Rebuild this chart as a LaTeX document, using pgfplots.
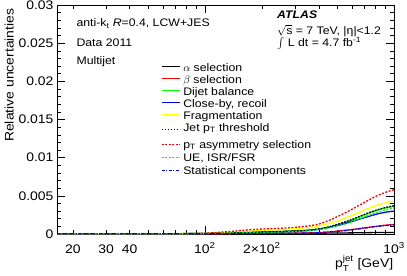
\documentclass[border=0pt]{standalone}
\usepackage{fontspec}
\setmainfont{Liberation Sans}[FakeStretch=1.12]
\usepackage{amsmath}
\usepackage{pgfplots}
\usepackage{pgfplotstable}
\pgfplotsset{compat=1.18}
\definecolor{rgreen}{RGB}{0,255,0}
\definecolor{rblue}{RGB}{0,0,255}
\definecolor{rred}{RGB}{255,0,0}
\definecolor{ryellow}{RGB}{255,255,0}
\pgfplotstableread{
pt     alpha   beta    dijet   close   frag    jetpt   asym    ue      stat
16.5   0.00003 0.00003 0.00003 0.00003 0.00003 0.00003 0.00003 0.00003 0.00003
30     0.00003 0.00003 0.00003 0.00003 0.00003 0.00003 0.00003 0.00003 0.00003
50     0.00003 0.00003 0.00003 0.00003 0.00003 0.00003 0.00003 0.00003 0.00003
70     0.00003 0.00003 0.00004 0.00004 0.00004 0.00004 0.00004 0.00004 0.00003
100    0.00004 0.00004 0.00008 0.00006 0.00008 0.00006 0.00010 0.00006 0.00005
130    0.00005 0.00005 0.00015 0.00012 0.00020 0.00012 0.00030 0.00010 0.00006
160    0.00006 0.00006 0.00022 0.00020 0.00032 0.00018 0.00048 0.00015 0.00007
200    0.00007 0.00008 0.00030 0.00026 0.00045 0.00025 0.00065 0.00020 0.00008
250    0.00008 0.00009 0.00036 0.00030 0.00055 0.00032 0.00075 0.00025 0.00009
300    0.00009 0.00010 0.00042 0.00035 0.00070 0.00040 0.00088 0.00032 0.00010
350    0.00010 0.00013 0.00050 0.00045 0.00085 0.00050 0.00105 0.00042 0.00013
400    0.00011 0.00018 0.00065 0.00062 0.00105 0.00066 0.00130 0.00058 0.00018
450    0.00012 0.00026 0.00090 0.00085 0.00135 0.00092 0.00175 0.00080 0.00026
500    0.00013 0.00036 0.00120 0.00110 0.00170 0.00125 0.00225 0.00105 0.00035
550    0.00014 0.00047 0.00152 0.00138 0.00208 0.00158 0.00275 0.00132 0.00045
600    0.00015 0.00058 0.00185 0.00165 0.00245 0.00190 0.00325 0.00160 0.00056
700    0.00017 0.00080 0.00250 0.00215 0.00315 0.00258 0.00415 0.00225 0.00078
800    0.00019 0.00100 0.00305 0.00257 0.00370 0.00310 0.00492 0.00278 0.00097
900    0.00020 0.00115 0.00340 0.00285 0.00408 0.00347 0.00545 0.00315 0.00110
1000   0.00021 0.00125 0.00360 0.00300 0.00430 0.00370 0.00580 0.00340 0.00120
}\data
\pgfplotsset{
  dotA/.style={dash pattern=on 1.8bp off 1.2bp},
  dashA/.style={dash pattern=on 2bp off 1.5bp},
  dashdotA/.style={dash pattern=on 3bp off 1.5bp on 1bp off 1.5bp},
}
\begin{document}
\begin{tikzpicture}
\begin{axis}[
  name=ax,
  width=337bp, height=229bp, scale only axis,
  xmode=log, xmin=16.5, xmax=1000, ymin=0, ymax=0.03,
  ytick={0,0.005,0.01,0.015,0.02,0.025,0.03},
  yticklabels={0,0.005,0.01,0.015,0.02,0.025,0.03},
  minor y tick num=4,
  scaled y ticks=false,
  xtick={100,1000},
  xticklabels={10\textsuperscript{2},10\textsuperscript{3}},
  minor xtick={20,30,40,50,60,70,80,90,200,300,400,500,600,700,800,900},
  extra x ticks={20,30,40,200},
  extra x tick labels={20,30,40,2×10\textsuperscript{2}},
  extra x tick style={major tick length=0pt},
  tick align=inside,
  major tick length=8bp, minor tick length=4.5bp,
  tick style={black, line width=0.5bp},
  axis line style={line width=0.6bp},
  tick label style={font=\fontsize{12.5}{14}\selectfont},
  xticklabel style={anchor=base, yshift=-19bp},
  ylabel={Relative uncertainties},
  ylabel style={at={(axis description cs:-0.142,1)}, anchor=east, font=\fontsize{12.5}{14}\selectfont},
  xlabel={p$_{\text{T}}^{\text{jet}}$ [GeV]},
  xlabel style={at={(axis description cs:1.008,-0.148)}, anchor=base east, font=\fontsize{12.5}{14}\selectfont},
  legend style={at={(rel axis cs:0.3086,0.7432)}, draw=none, fill=none, anchor=north west,
    font=\fontsize{11}{13}\selectfont, row sep=0pt, inner sep=0pt, outer sep=0pt,
    column sep=3bp, nodes={inner sep=0pt, text height=7.5bp, text depth=4.5bp}},
  legend cell align=left,
  legend image code/.code={\draw[#1] (0bp,3bp) -- (18bp,3bp);},
  every axis plot/.append style={line width=1.3bp},
]
\addplot[draw=black, smooth] table[x=pt,y=alpha]{\data};
\addlegendentry{$\alpha$ selection}
\addplot[draw=rred, smooth] table[x=pt,y=beta]{\data};
\addlegendentry{$\beta$ selection}
\addplot[draw=rgreen, smooth] table[x=pt,y=dijet]{\data};
\addlegendentry{Dijet balance}
\addplot[draw=rblue, smooth] table[x=pt,y=close]{\data};
\addlegendentry{Close-by, recoil}
\addplot[draw=ryellow, smooth] table[x=pt,y=frag]{\data};
\addlegendentry{Fragmentation}
\addplot[draw=black, smooth, dotA] table[x=pt,y=jetpt]{\data};
\addlegendentry[text depth=9.5bp]{Jet p\textsubscript{T} threshold}
\addplot[draw=rred, smooth, dashA] table[x=pt,y=asym]{\data};
\addlegendentry[text depth=5.5bp]{p\textsubscript{T} asymmetry selection}
\addplot[draw=rgreen, smooth, dashA] table[x=pt,y=ue]{\data};
\addlegendentry[text depth=5.5bp]{UE, ISR/FSR}
\addplot[draw=rblue, smooth, dashdotA] table[x=pt,y=stat]{\data};
\addlegendentry[text depth=5.5bp]{Statistical components}
\node[anchor=base west, font=\fontsize{11}{13}\selectfont] at (rel axis cs:0.0475,0.904) {anti-k\textsubscript{t} \textit{R}=0.4, LCW+JES};
\node[anchor=base west, font=\fontsize{11}{13}\selectfont] at (rel axis cs:0.0475,0.8166) {Data 2011};
\node[anchor=base west, font=\fontsize{11}{13}\selectfont] at (rel axis cs:0.0475,0.738) {Multijet};
\node[anchor=base west, inner sep=0pt, font=\fontsize{11}{13}\selectfont\bfseries\itshape] at (rel axis cs:0.6528,0.941) {ATLAS};
\node[anchor=base west, inner sep=0pt, font=\fontsize{11}{13}\selectfont] at (rel axis cs:0.6528,0.873) {$\sqrt{\mbox{s}}$ = 7 TeV, |η|<1.2};
\node[anchor=base west, inner sep=0pt, font=\fontsize{11}{13}\selectfont] at (rel axis cs:0.6528,0.819) {$\int$ L dt = 4.7 fb\textsuperscript{-1}};
\end{axis}
\pgfresetboundingbox
\path[use as bounding box] ([xshift=-57bp,yshift=-42bp]ax.south west) rectangle ([xshift=13bp,yshift=5bp]ax.north east);
\end{tikzpicture}
\end{document}
